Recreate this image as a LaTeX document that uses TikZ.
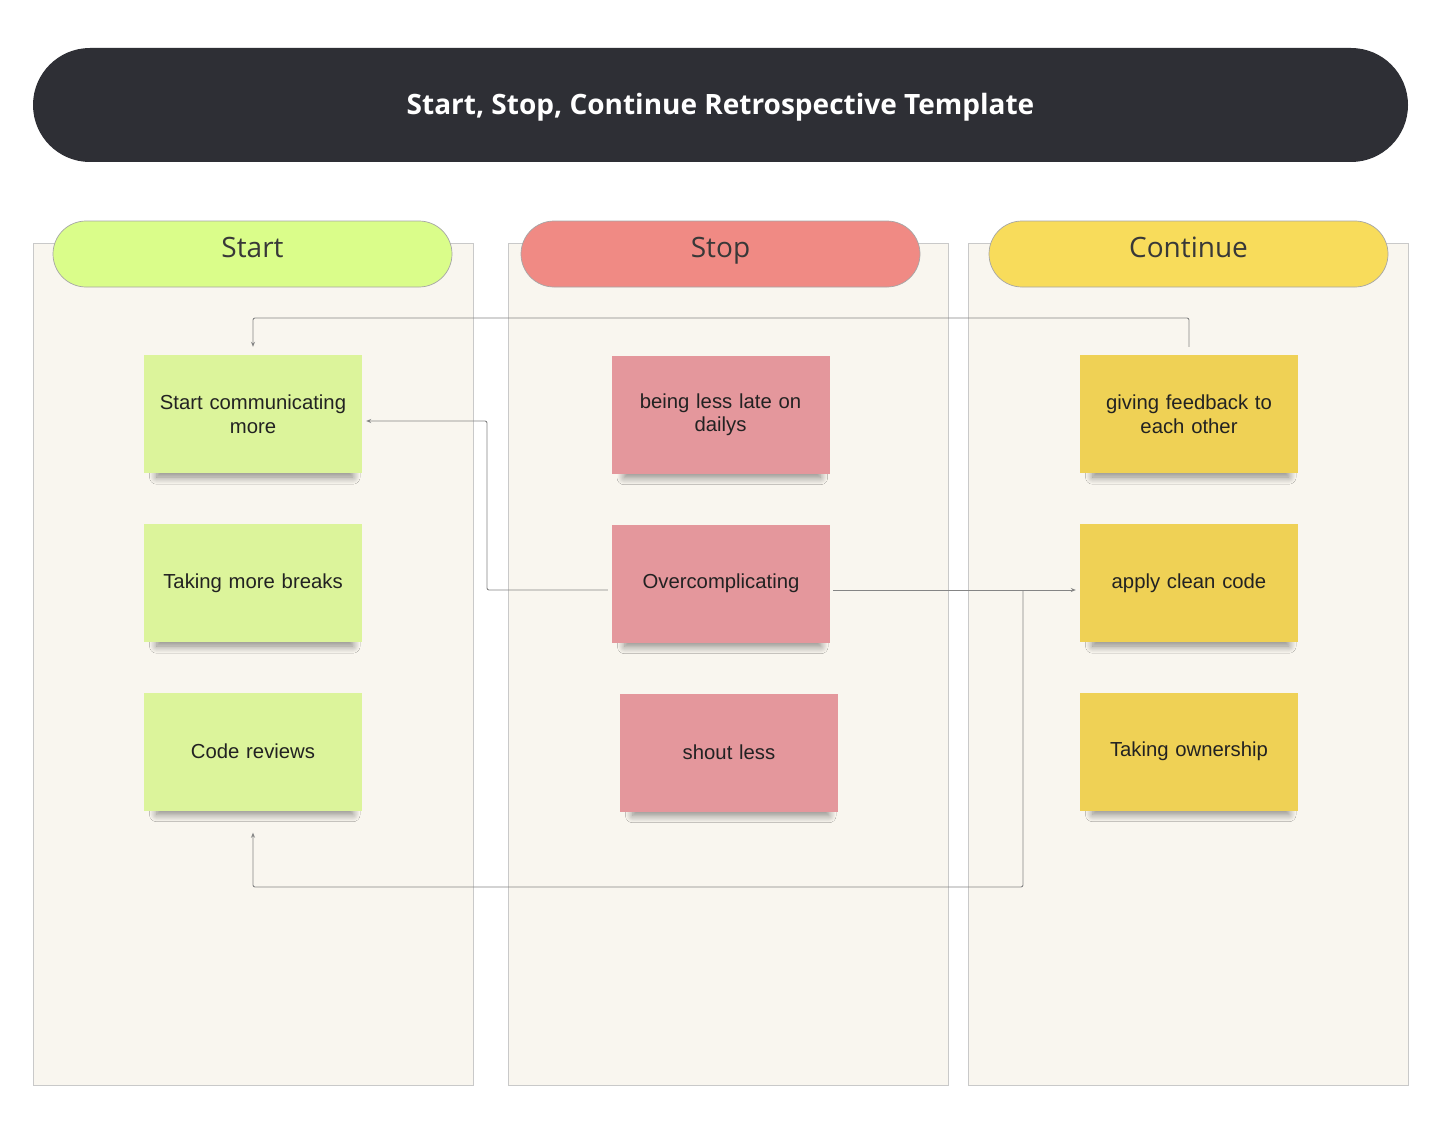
\documentclass[tikz,border=0pt]{standalone}
\usepackage{fontspec}
\setmainfont{Liberation Sans}
\newfontfamily\osans{Open Sans}
\usetikzlibrary{shadows.blur,arrows.meta,calc}
\definecolor{titlebg}{HTML}{2E2F35}
\definecolor{colbg}{HTML}{F9F6EF}
\definecolor{colline}{HTML}{C9C9C9}
\definecolor{pillA}{HTML}{DAFD8A}
\definecolor{pillB}{HTML}{F08A84}
\definecolor{pillC}{HTML}{F8DC5B}
\definecolor{stA}{HTML}{DCF49B}
\definecolor{stB}{HTML}{E4979C}
\definecolor{stC}{HTML}{EFD155}
\definecolor{txt}{HTML}{222222}
\definecolor{conncol}{HTML}{858585}
\tikzset{
  titlebar/.style={fill=titlebg, rounded corners=57pt, minimum width=1375pt, minimum height=114pt, inner sep=0pt,
    text=white, text height=20pt, text depth=0pt, font=\osans\bfseries\fontsize{28}{32}\selectfont},
  column/.style={fill=colbg, draw=colline, line width=1pt, minimum width=440pt, minimum height=842pt, inner sep=0pt},
  pill/.style={draw=gray!70, line width=0.7pt, rounded corners=33pt, minimum width=399pt, minimum height=66pt,
    inner sep=0pt, text=txt!90, text height=20pt, text depth=14pt, font=\osans\fontsize{28}{32}\selectfont},
  sticky/.style={minimum width=218pt, minimum height=118pt, inner sep=0pt, text width=210pt, align=center,
    text=txt, font=\fontsize{20.3}{23.5}\selectfont,
    blur shadow={shadow xshift=2pt, shadow yshift=-11pt, shadow scale=0.9,
      shadow blur radius=8pt, shadow blur steps=12, shadow opacity=45}},
  conn/.style={draw=conncol, line width=0.9pt, rounded corners=2pt, -{Stealth[length=5pt,width=4pt]}}
}
\begin{document}
\begin{tikzpicture}[x=1pt,y=-1pt]
\useasboundingbox[fill=white] (0,0) rectangle (1434,1134);

\node[titlebar] (title) at (720.5,105) {Start, Stop, Continue Retrospective Template};

\node[column] (colA) at (253,664) {};
\node[column] (colB) at (728.5,664) {};
\node[column] (colC) at (1188,664) {};

\node[pill, fill=pillA] (hA) at (252.5,254) {Start};
\node[pill, fill=pillB] (hB) at (720.5,254) {Stop};
\node[pill, fill=pillC] (hC) at (1188.5,254) {Continue};

\node[sticky, fill=stA] (s1) at (253,414) {Start communicating\\more};
\node[sticky, fill=stA] (s2) at (253,583) {Taking more breaks};
\node[sticky, fill=stA] (s3) at (253,751.5) {Code reviews};

\node[sticky, fill=stB] (p1) at (720.5,414.5) {being less late on\\dailys};
\node[sticky, fill=stB] (p2) at (721,583.5) {Overcomplicating};
\node[sticky, fill=stB] (p3) at (729,752.5) {shout less};

\node[sticky, fill=stC] (c1) at (1189,414) {giving feedback to\\each other};
\node[sticky, fill=stC] (c2) at (1189,583) {apply clean code};
\node[sticky, fill=stC] (c3) at (1189,751.5) {Taking ownership};

% connectors
\draw[conn, shorten <=8pt, shorten >=8pt] (c1.north) -- (c1.north |- 0,318) -| (s1.north);
\coordinate (pw) at ([yshift=-6.5pt]p2.west);
\coordinate (pe) at ([yshift=-6.5pt]p2.east);
\coordinate (se) at ([yshift=-7pt]s1.east);
\draw[conn, shorten <=4pt, shorten >=4pt] (pw) -- (487,590) |- (se);
\coordinate (cw) at ([yshift=-7pt]c2.west);
\draw[conn, shorten <=3pt, shorten >=4pt] (pe) -- (cw);
\coordinate (j) at (1023,590);
\draw[conn, shorten >=22pt] (j) |- (253,887) -- (s3.south);
\end{tikzpicture}
\end{document}
